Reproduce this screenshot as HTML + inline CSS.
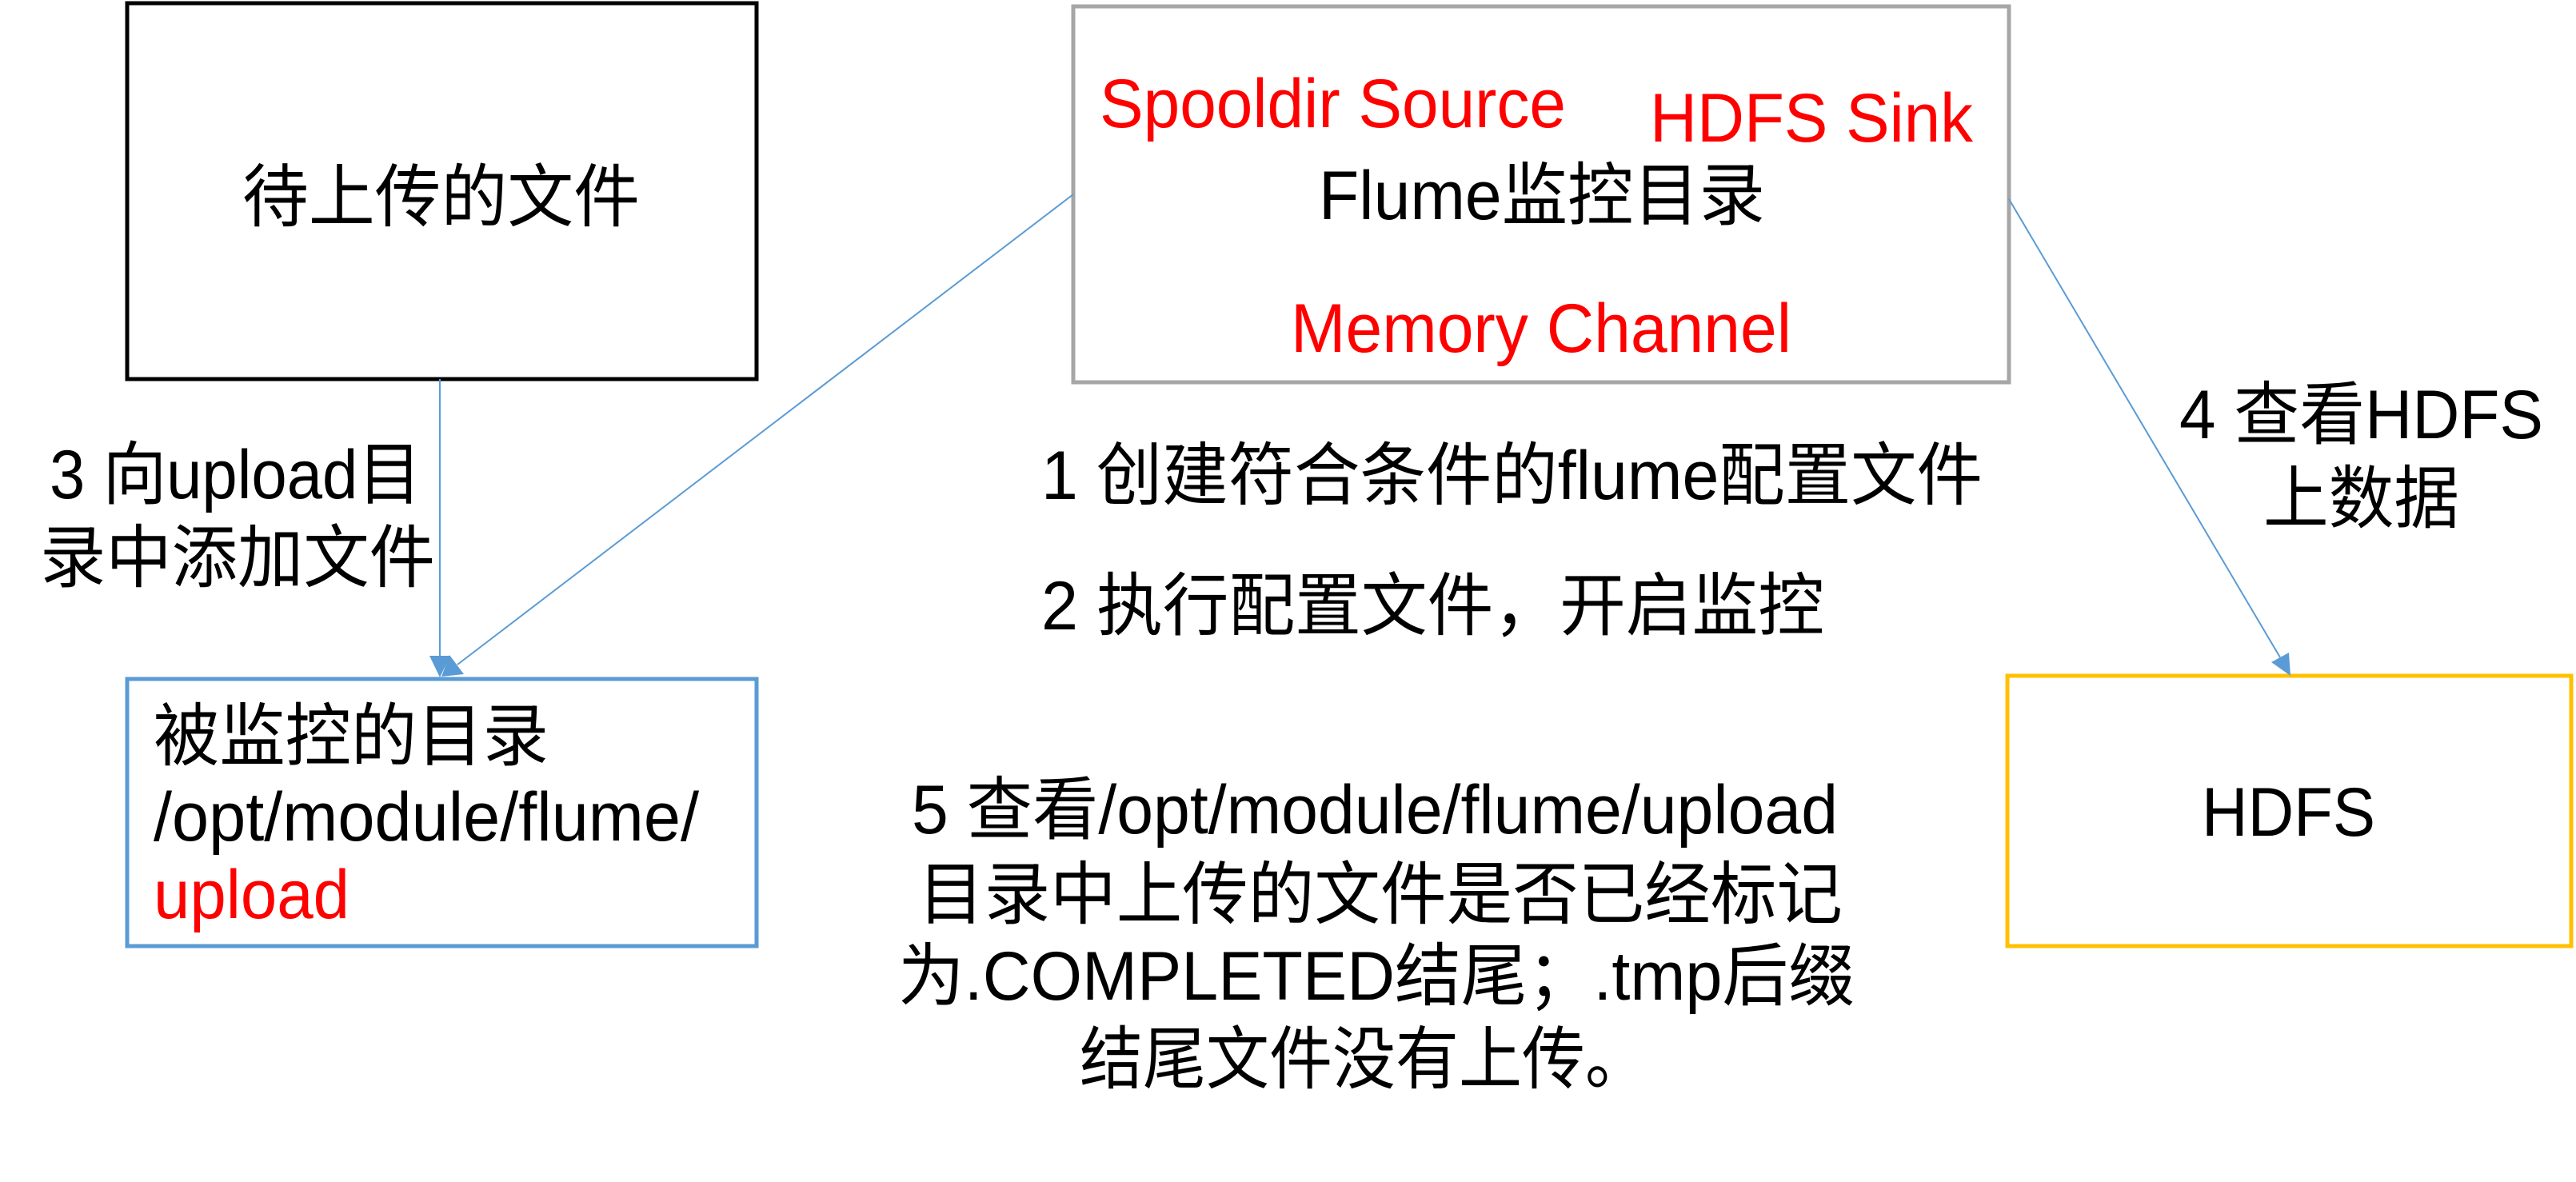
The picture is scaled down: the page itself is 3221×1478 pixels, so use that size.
<!DOCTYPE html>
<html><head><meta charset="utf-8"><style>
html,body{margin:0;padding:0;background:#fff;}
svg{display:block;}
text{font-family:"Liberation Sans","Noto Sans CJK SC",sans-serif;font-size:86px;fill:#000;}
.r{fill:#ff0000;}
</style></head><body>
<svg width="3221" height="1478" viewBox="0 0 3221 1478" xmlns="http://www.w3.org/2000/svg">
<rect x="159" y="4" width="787" height="470" fill="none" stroke="#000" stroke-width="5"/>
<rect x="1342" y="8" width="1170" height="470" fill="none" stroke="#a6a6a6" stroke-width="5"/>
<rect x="159" y="849" width="787" height="334" fill="none" stroke="#5b9bd5" stroke-width="5"/>
<rect x="2510" y="845" width="705" height="338" fill="none" stroke="#ffc000" stroke-width="5"/>
<line x1="550" y1="474" x2="550" y2="822" stroke="#5b9bd5" stroke-width="2"/>
<polygon points="537,820 563,820 550,847" fill="#5b9bd5"/>
<line x1="1342" y1="243" x2="572" y2="831" stroke="#5b9bd5" stroke-width="2"/>
<polygon points="562,819 580,843 552,846" fill="#5b9bd5"/>
<line x1="2512" y1="249" x2="2851" y2="822" stroke="#5b9bd5" stroke-width="2"/>
<polygon points="2840,828 2862,816 2864,845" fill="#5b9bd5"/>
<text x="303" y="276" textLength="497" lengthAdjust="spacingAndGlyphs">待上传的文件</text>
<text class="r" x="1375" y="159" textLength="583" lengthAdjust="spacingAndGlyphs">Spooldir Source</text>
<text class="r" x="2063" y="177" textLength="404" lengthAdjust="spacingAndGlyphs">HDFS Sink</text>
<text x="1649" y="274" textLength="558" lengthAdjust="spacingAndGlyphs">Flume监控目录</text>
<text class="r" x="1614" y="440" textLength="626" lengthAdjust="spacingAndGlyphs">Memory Channel</text>
<text x="62" y="623" textLength="465" lengthAdjust="spacingAndGlyphs">3 向upload目</text>
<text x="50" y="727" textLength="494" lengthAdjust="spacingAndGlyphs">录中添加文件</text>
<text x="1302" y="624" textLength="1177" lengthAdjust="spacingAndGlyphs">1 创建符合条件的flume配置文件</text>
<text x="1302" y="787" textLength="979" lengthAdjust="spacingAndGlyphs">2 执行配置文件，开启监控</text>
<text x="2725" y="548" textLength="455" lengthAdjust="spacingAndGlyphs">4 查看HDFS</text>
<text x="2830" y="653" textLength="245" lengthAdjust="spacingAndGlyphs">上数据</text>
<text x="2753" y="1045" textLength="217" lengthAdjust="spacingAndGlyphs">HDFS</text>
<text x="192" y="950" textLength="494" lengthAdjust="spacingAndGlyphs">被监控的目录</text>
<text x="192" y="1051" textLength="682" lengthAdjust="spacingAndGlyphs">/opt/module/flume/</text>
<text class="r" x="192" y="1148" textLength="245" lengthAdjust="spacingAndGlyphs">upload</text>
<text x="1140" y="1042" textLength="1158" lengthAdjust="spacingAndGlyphs">5 查看/opt/module/flume/upload</text>
<text x="1148" y="1148" textLength="1156" lengthAdjust="spacingAndGlyphs">目录中上传的文件是否已经标记</text>
<text x="1123" y="1250" textLength="1196" lengthAdjust="spacingAndGlyphs">为.COMPLETED结尾；.tmp后缀</text>
<text x="1350" y="1354" textLength="711" lengthAdjust="spacingAndGlyphs">结尾文件没有上传。</text>
</svg>
</body></html>
